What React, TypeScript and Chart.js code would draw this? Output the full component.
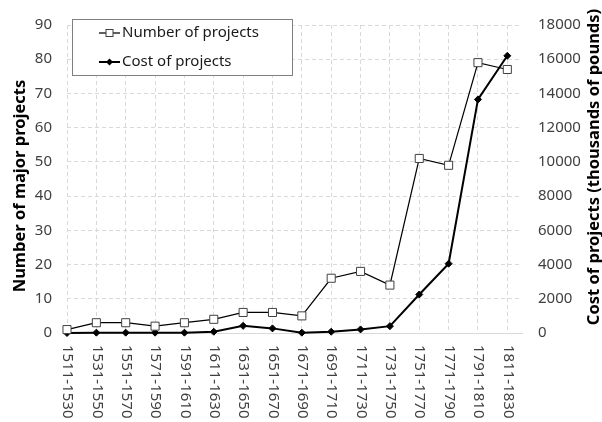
import React, { useEffect, useRef } from "react";
import { Chart, registerables } from "chart.js";

Chart.register(...registerables);

const categories = [
  "1511-1530", "1531-1550", "1551-1570", "1571-1590", "1591-1610", "1611-1630",
  "1631-1650", "1651-1670", "1671-1690", "1691-1710", "1711-1730", "1731-1750",
  "1751-1770", "1771-1790", "1791-1810", "1811-1830",
];
const numberOfProjects = [1, 3, 3, 2, 3, 4, 6, 6, 5, 16, 18, 14, 51, 49, 79, 77];
const costOfProjects = [0, 20, 20, 20, 20, 75, 420, 270, 20, 75, 210, 400, 2250, 4050, 13650, 16200];

const leftTitle = "Number of major projects";
const rightTitle = "Cost of projects (thousands of pounds)";
const seriesLabels = ["Number of projects", "Cost of projects"];

const FONT = "'Noto Sans', sans-serif";
const GRID = "#d9d9d9";
const TICK = "#404040";

const customPlugin = {
  id: "custom",
  afterDraw(chart: any) {
    const ctx = chart.ctx as CanvasRenderingContext2D;
    const xs = chart.scales.x;
    const area = chart.chartArea;
    ctx.save();
    // x labels rotated clockwise
    ctx.font = `15px ${FONT}`;
    ctx.fillStyle = TICK;
    ctx.textAlign = "left";
    ctx.textBaseline = "middle";
    categories.forEach((c, i) => {
      const x = xs.getPixelForValue(i);
      ctx.save();
      ctx.translate(x + 0.5, area.bottom + 12);
      ctx.rotate(Math.PI / 2);
      ctx.fillText(c, 0, 0);
      ctx.restore();
    });
    // axis titles
    ctx.font = `bold 16.5px ${FONT}`;
    ctx.fillStyle = "#000";
    ctx.textAlign = "center";
    ctx.textBaseline = "middle";
    ctx.save();
    ctx.translate(20.5, 186);
    ctx.rotate(-Math.PI / 2);
    ctx.fillText(leftTitle, 0, 0);
    ctx.restore();
    ctx.save();
    ctx.translate(594.5, 167);
    ctx.rotate(-Math.PI / 2);
    ctx.fillText(rightTitle, 0, 0);
    ctx.restore();

    // legend
    const bx = 72.5, by = 19.5, bw = 220, bh = 56;
    ctx.fillStyle = "#fff";
    ctx.fillRect(bx, by, bw, bh);
    ctx.strokeStyle = "#808080";
    ctx.lineWidth = 1;
    ctx.strokeRect(bx, by, bw, bh);
    const rows = [33, 62];
    // row 1
    ctx.strokeStyle = "#000";
    ctx.lineWidth = 1.25;
    ctx.beginPath();
    ctx.moveTo(99, rows[0]);
    ctx.lineTo(120, rows[0]);
    ctx.stroke();
    ctx.fillStyle = "#fff";
    ctx.fillRect(106, rows[0] - 3.5, 7, 7);
    ctx.strokeStyle = "#404040";
    ctx.lineWidth = 1;
    ctx.strokeRect(106, rows[0] - 3.5, 7, 7);
    // row 2
    ctx.strokeStyle = "#000";
    ctx.lineWidth = 2;
    ctx.beginPath();
    ctx.moveTo(99, rows[1]);
    ctx.lineTo(120, rows[1]);
    ctx.stroke();
    ctx.fillStyle = "#000";
    ctx.beginPath();
    ctx.moveTo(109.5, rows[1] - 3.5);
    ctx.lineTo(113, rows[1]);
    ctx.lineTo(109.5, rows[1] + 3.5);
    ctx.lineTo(106, rows[1]);
    ctx.closePath();
    ctx.fill();
    ctx.font = `15px ${FONT}`;
    ctx.fillStyle = "#1a1a1a";
    ctx.textAlign = "left";
    ctx.textBaseline = "middle";
    ctx.fillText(seriesLabels[0], 122, rows[0]);
    ctx.fillText(seriesLabels[1], 122, rows[1]);
    ctx.restore();
  },
};

export default function App() {
  const ref = useRef<HTMLCanvasElement>(null);
  useEffect(() => {
    if (!ref.current) return;
    const chart = new Chart(ref.current, {
      type: "line",
      data: {
        datasets: [
          {
            label: seriesLabels[0],
            data: numberOfProjects.map((v, i) => ({ x: i, y: v })),
            yAxisID: "y",
            borderColor: "#000",
            borderWidth: 1.25,
            pointStyle: "rect",
            pointRadius: 5.7,
            pointBackgroundColor: "#fff",
            pointBorderColor: "#404040",
            pointBorderWidth: 1,
            tension: 0,
            clip: false,
            order: 1,
          },
          {
            label: seriesLabels[1],
            data: costOfProjects.map((v, i) => ({ x: i, y: v })),
            yAxisID: "y1",
            borderColor: "#000",
            borderWidth: 2,
            pointStyle: "rectRot",
            pointRadius: 3.5,
            pointBackgroundColor: "#000",
            pointBorderColor: "#000",
            pointBorderWidth: 1,
            tension: 0,
            clip: false,
            order: 2,
          },
        ],
      },
      options: {
        animation: false,
        responsive: true,
        maintainAspectRatio: false,
        layout: { padding: { top: 14, left: 0, right: 0, bottom: 0 } },
        plugins: { legend: { display: false }, tooltip: { enabled: false } },
        scales: {
          x: {
            type: "linear",
            min: 0,
            max: 15.5,
            afterBuildTicks: (s: any) => {
              s.ticks = categories.map((_, i) => ({ value: i }));
            },
            afterFit: (s: any) => {
              s.height = 89;
            },
            ticks: { display: false },
            grid: { color: GRID, lineWidth: 1, drawTicks: false },
            border: { display: true, color: GRID, width: 1, dash: [4, 3] },
          },
          y: {
            position: "left",
            min: 0,
            max: 90,
            afterFit: (s: any) => {
              s.width = 67;
            },
            ticks: {
              stepSize: 10,
              padding: 15,
              color: TICK,
              font: { family: FONT, size: 15 },
            },
            grid: { color: GRID, lineWidth: 1, drawTicks: false },
            border: { display: false, dash: [4, 3] },
          },
          y1: {
            position: "right",
            min: 0,
            max: 18000,
            afterFit: (s: any) => {
              s.width = 80;
            },
            ticks: {
              stepSize: 2000,
              padding: 16,
              color: TICK,
              font: { family: FONT, size: 15 },
              callback: (v: any) => String(v),
            },
            grid: { display: false, drawTicks: false },
            border: { display: false },
          },
        },
      },
      plugins: [customPlugin],
    } as any);
    return () => chart.destroy();
  }, []);
  return (
    <div style={{ position: "fixed", left: 0, top: 0, width: 602, height: 422, background: "#fff" }}>
      <canvas ref={ref} />
    </div>
  );
}
